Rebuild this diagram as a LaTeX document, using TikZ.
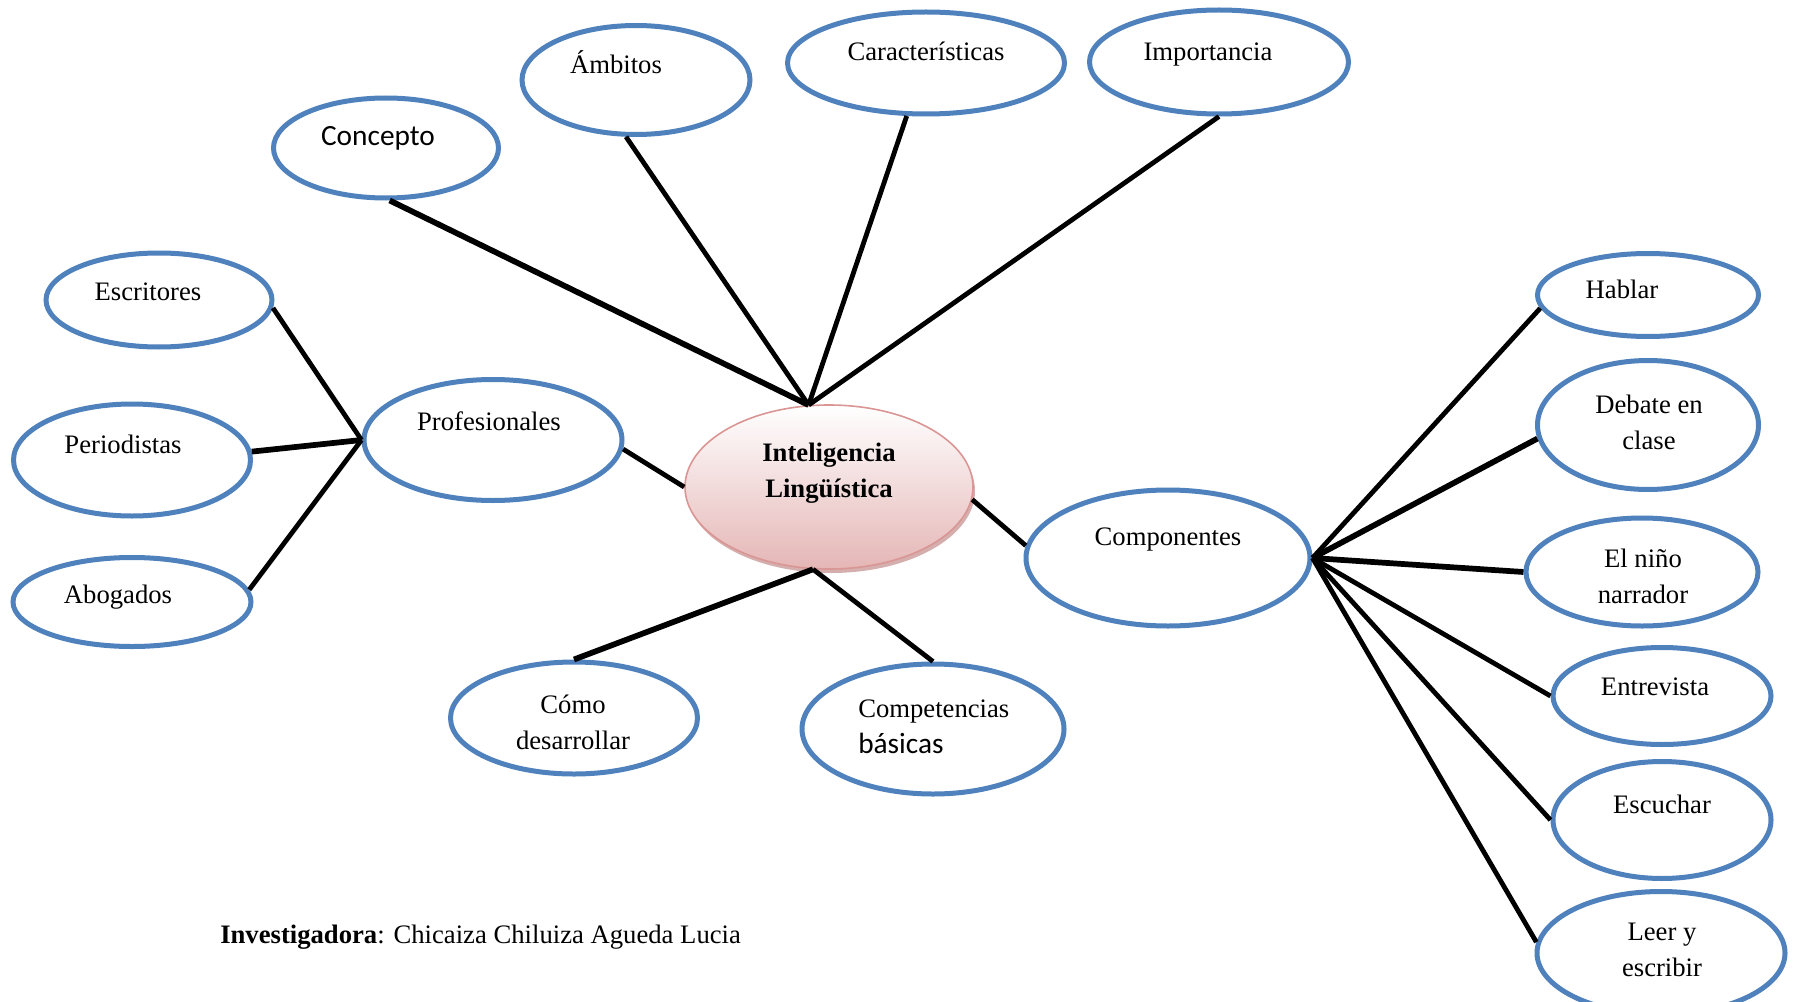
\documentclass[tikz,border=0pt]{standalone}
\usepackage{fontspec}
\setmainfont{Liberation Serif}
\newfontfamily\calib{Carlito}
\usetikzlibrary{shapes.geometric,shadows}
\definecolor{bblue}{RGB}{79,129,189}
\definecolor{pinkb}{RGB}{217,150,148}
\definecolor{pinkf}{RGB}{229,182,182}
\definecolor{pinks}{RGB}{196,140,140}
\begin{document}
\begin{tikzpicture}[x=0.75pt,y=-0.75pt,
  bub/.style={draw=bblue, line width=3.75pt, ellipse, inner sep=0pt},
  sz/.style 2 args={minimum width=#1*0.75pt, minimum height=#2*0.75pt},
  t1/.style={font=\fontsize{20}{27}\selectfont, inner sep=0pt, text height=0.68em, text depth=0.22em},
  t2/.style={font=\fontsize{20}{27}\selectfont, inner sep=0pt, align=center},
  ct/.style={font=\calib\fontsize{22}{27}\selectfont, inner sep=0pt, text height=0.68em, text depth=0.22em},
  con/.style={line width=3.6pt},
  conk/.style={line width=4.3pt}]
\useasboundingbox (0,0) rectangle (1802,1002);
\clip (0,0) rectangle (1802,1002);
\fill[white] (0,0) rectangle (1802,1002);

% central
\node[ellipse, draw=pinkb, line width=1.2pt, inner sep=0pt, sz={288}{164},
      top color=white, bottom color=pinkf,
      drop shadow={shadow xshift=1.5pt, shadow yshift=-3pt, fill=pinks, opacity=0.7}]
      (central) at (829,487) {};
\node[t2, font=\bfseries\fontsize{20}{27}\selectfont] (central-t) at (829,473) {Inteligencia\\Lingüística};

% top branch
\node[bub, sz={225}{100}] (concepto) at (386,148) {};
\node[ct] (concepto-t) at (378,142) {Concepto};
\node[bub, sz={228}{109}] (ambitos) at (636,80) {};
\node[t1] (ambitos-t) at (616,70) {Ámbitos};
\node[bub, sz={277}{102}] (caract) at (926,63) {};
\node[t1] (caract-t) at (926,57) {Características};
\node[bub, sz={259}{104}] (import) at (1219,62) {};
\node[t1] (import-t) at (1208,57) {Importancia};

% left branch
\node[bub, sz={258}{121}] (prof) at (493,440) {};
\node[t1] (prof-t) at (489,427) {Profesionales};
\node[bub, sz={226}{94}] (escr) at (159,300) {};
\node[t1] (escr-t) at (148,297) {Escritores};
\node[bub, sz={237}{112}] (perio) at (132,460) {};
\node[t1] (perio-t) at (123,450) {Periodistas};
\node[bub, sz={238}{89}] (abog) at (132,602) {};
\node[t1] (abog-t) at (118,600) {Abogados};

% bottom branch
\node[bub, sz={247}{112}] (como) at (574,718) {};
\node[t2] (como-t) at (573,722) {Cómo\\desarrollar};
\node[bub, sz={262}{130}] (compet) at (933,729) {};
\node[inner sep=0pt, align=left, anchor=west, font=\fontsize{20}{27}\selectfont] (compet-t) at (858,727)
  {Competencias\\{\calib\fontsize{22}{29}\selectfont básicas}};

% right branch
\node[bub, sz={284}{136}] (comp) at (1168,558) {};
\node[t1] (comp-t) at (1168,542) {Componentes};
\node[bub, sz={221}{83}] (hablar) at (1648,295) {};
\node[t1] (hablar-t) at (1622,295) {Hablar};
\node[bub, sz={221}{129}] (debate) at (1648,425) {};
\node[t2] (debate-t) at (1649,422) {Debate en\\clase};
\node[bub, sz={232}{108}] (nino) at (1642,572) {};
\node[t2] (nino-t) at (1643,576) {El niño\\narrador};
\node[bub, sz={218}{97}] (entre) at (1662,696) {};
\node[t1] (entre-t) at (1655,692) {Entrevista};
\node[bub, sz={218}{117}] (escu) at (1662,820) {};
\node[t1] (escu-t) at (1662,810) {Escuchar};
\node[bub, sz={248}{123}] (leer) at (1661,953) {};
\node[t2] (leer-t) at (1662,950) {Leer y\\escribir};

% footer
\node[t1, anchor=west] (autor) at (220,940) {\textbf{Investigadora}: Chicaiza Chiluiza Agueda Lucia};

% connectors
\draw[conk] (concepto.-86) -- (central.104);
\draw[con] (ambitos.-100) -- (central.104);
\draw[con] (caract.-110) -- (central.104);
\draw[con] (import.south) -- (central.104);

\draw[con] (escr.-4) -- (prof.west);
\draw[conk] (perio.4) -- (prof.west);
\draw[con] (abog.6) -- (prof.west);
\draw[con] (prof.-4) -- (central.west);

\draw[conk] (central.-101) -- (como.north);
\draw[con] (central.-101) -- (compet.north);

\draw[con] (central.-5) -- (comp.175);
\draw[con] (comp.east) -- (hablar.187);
\draw[conk] (comp.east) -- (debate.187);
\draw[conk] (comp.east) -- (nino.west);
\draw[con] (comp.east) -- (entre.west);
\draw[con] (comp.east) -- (escu.west);
\draw[con] (comp.east) -- (leer.175);
\end{tikzpicture}
\end{document}
